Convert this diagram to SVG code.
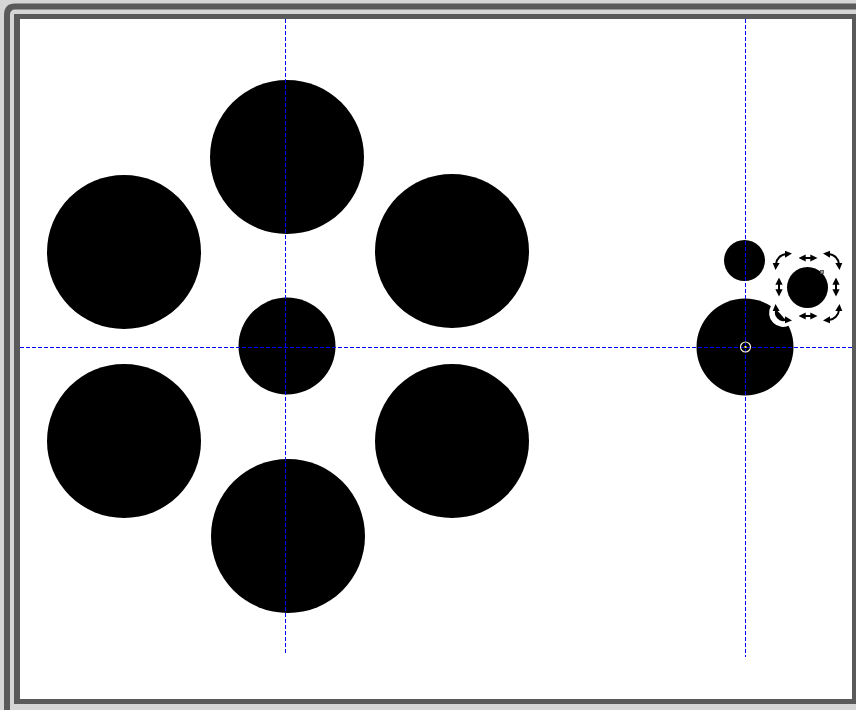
<svg xmlns="http://www.w3.org/2000/svg" width="856" height="710" viewBox="0 0 856 710">
<defs>
<style>
.dot{fill:#000}
.guide{stroke:#0000ff;stroke-width:1;stroke-dasharray:4 2;fill:none;shape-rendering:crispEdges}
.frame{fill:none;stroke:#5a5a5a}
.hw{fill:none;stroke:#fff;stroke-width:6;stroke-linecap:round}
.hb{fill:none;stroke:#000;stroke-width:2}
</style>
<marker id="ah" viewBox="0 0 6 6" refX="1" refY="3" markerWidth="3.6" markerHeight="3.6" orient="auto-start-reverse" markerUnits="strokeWidth">
<path d="M0,0 L6,3 L0,6 Z" fill="#000"/>
</marker>
<g id="rot">
<path class="hw" d="M -7.5 7.5 A 11 11 0 0 1 7.5 -7.5"/>
<path class="hb" d="M -5 5 A 11 11 0 0 1 5 -5" marker-start="url(#ah)" marker-end="url(#ah)"/>
</g>
<g id="dbl">
<path class="hw" d="M -7 0 H 7"/>
<path class="hb" d="M -3.5 0 H 3.5" marker-start="url(#ah)" marker-end="url(#ah)"/>
</g>
</defs>
<rect width="856" height="710" fill="#d6d6d6"/>
<path class="frame" stroke-width="6" d="M 7 715 V 15 Q 7 6.5 15 6.5 H 862"/>
<rect x="14" y="14" width="850" height="690" fill="#5a5a5a"/>
<rect x="20" y="19" width="832" height="680" fill="#fff"/>

<g id="n-top"><circle class="dot" cx="287" cy="157" r="77"/></g>
<g id="n-upper-left"><circle class="dot" cx="124" cy="252" r="77"/></g>
<g id="n-upper-right"><circle class="dot" cx="452" cy="251" r="77"/></g>
<g id="n-center"><circle class="dot" cx="287" cy="346" r="48.5"/></g>
<g id="n-lower-left"><circle class="dot" cx="124" cy="441" r="77"/></g>
<g id="n-lower-right"><circle class="dot" cx="452" cy="441" r="77"/></g>
<g id="n-bottom"><circle class="dot" cx="288" cy="536" r="77"/></g>

<g id="n-right-big"><circle class="dot" cx="745" cy="347" r="48.5"/></g>
<g id="n-right-small"><circle class="dot" cx="744.5" cy="260.5" r="20.5"/></g>
<g id="n-right-selected"><circle class="dot" cx="807.5" cy="287.5" r="20.5"/></g>

<g id="guides">
<line class="guide" x1="285.5" y1="19" x2="285.5" y2="655"/>
<line class="guide" x1="745.5" y1="19" x2="745.5" y2="657"/>
<line class="guide" x1="20" y1="347.5" x2="852" y2="347.5"/>
</g>

<g id="selection-handles">
<use href="#rot" transform="translate(781,259)"/>
<use href="#rot" transform="translate(834,259) rotate(90)"/>
<use href="#rot" transform="translate(834,315) rotate(180)"/>
<use href="#rot" transform="translate(781,315) rotate(270)"/>
<use href="#dbl" transform="translate(808,258)"/>
<use href="#dbl" transform="translate(808,316)"/>
<use href="#dbl" transform="translate(779,287) rotate(90)"/>
<use href="#dbl" transform="translate(836,287) rotate(90)"/>
<rect x="820.5" y="270.5" width="3" height="3" fill="#999" stroke="#444" stroke-width="0.8"/>
</g>

<g id="center-marker">
<circle cx="745.5" cy="347" r="5" fill="none" stroke="#f4f0d0" stroke-width="1.2"/>
<rect x="744.5" y="346" width="2" height="2" fill="#ffee55"/>
</g>
</svg>
